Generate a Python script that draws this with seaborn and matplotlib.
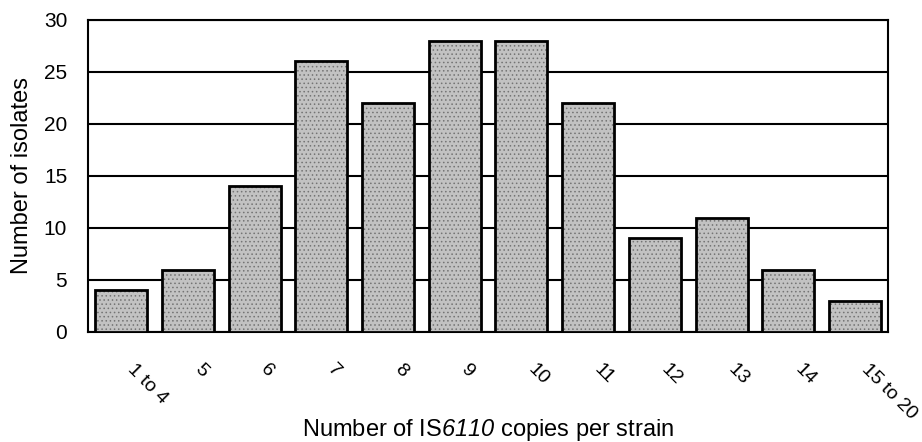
import numpy as np
import pandas as pd
import matplotlib
matplotlib.use("Agg")
import matplotlib.pyplot as plt
import matplotlib.transforms as mtransforms
import seaborn as sns

# copies per strain (categories) and number of isolates
categories = ["1 to 4", "5", "6", "7", "8", "9", "10", "11", "12", "13", "14", "15 to 20"]
isolates = [4, 6, 14, 26, 22, 28, 28, 22, 9, 11, 6, 3]
y_ticks = [0, 5, 10, 15, 20, 25, 30]

df = pd.DataFrame({"copies": categories, "isolates": isolates})

sns.set_style("white")
plt.rcParams["font.family"] = ["Liberation Sans", "DejaVu Sans"]
plt.rcParams["text.color"] = "black"
plt.rcParams["axes.labelcolor"] = "black"
plt.rcParams["xtick.color"] = "black"
plt.rcParams["ytick.color"] = "black"
# mathtext puts digits in the rm font, so make that one italic for "6110"
plt.rcParams["mathtext.fontset"] = "custom"
plt.rcParams["mathtext.rm"] = "Liberation Sans:italic"
plt.rcParams["mathtext.it"] = "Liberation Sans:italic"
plt.rcParams["hatch.linewidth"] = 0.6

fig = plt.figure(figsize=(9.22, 4.42), dpi=100)
ax = fig.add_axes([0.0954, 0.249, 0.868, 0.706])

# grey texture first, then black outlines on top
sns.barplot(data=df, x="copies", y="isolates", order=categories, color="#c2c2c2",
            saturation=1, width=0.78, edgecolor="#747474", linewidth=0, hatch="....",
            ax=ax, zorder=3)
sns.barplot(data=df, x="copies", y="isolates", order=categories, fill=False,
            width=0.78, edgecolor="black", linewidth=2, ax=ax, zorder=4)

ax.set_ylim(0, 30)
ax.set_xlim(-0.5, len(categories) - 0.5)
ax.set_yticks(y_ticks)
ax.yaxis.grid(True, color="black", linewidth=1.5, zorder=0)
ax.set_axisbelow(True)

# ticks at category boundaries, labels at centers
ax.set_xticks(np.arange(-0.5, len(categories)), [""] * (len(categories) + 1))
ax.set_xticks(np.arange(len(categories)), categories, minor=True)
ax.tick_params(axis="x", which="major", direction="out", length=7, width=1.5, color="black")
ax.tick_params(axis="x", which="minor", length=0, pad=21, labelsize=14, labelcolor="black")
shift = mtransforms.ScaledTranslation(15 / 100, 0, fig.dpi_scale_trans)
for lbl in ax.get_xticklabels(minor=True):
    lbl.set_rotation(-45)
    lbl.set_ha("left")
    lbl.set_va("top")
    lbl.set_rotation_mode("anchor")
    lbl.set_transform(lbl.get_transform() + shift)
ax.tick_params(axis="y", direction="out", length=3, width=1.5, pad=12,
               color="black", labelcolor="black", labelsize=15)

for s in ax.spines.values():
    s.set_visible(True)
    s.set_color("black")
    s.set_linewidth(1.5)

ax.set_xlabel(r"Number of IS$6110$ copies per strain", fontsize=17, color="black")
ax.xaxis.set_label_coords(0.5, -0.315)
ax.xaxis.label.set_va("center")
ax.set_ylabel("Number of isolates", fontsize=17, color="black")
ax.yaxis.set_label_coords(-0.083, 0.5)
ax.yaxis.label.set_va("center")

fig.savefig("out.png", dpi=100)
